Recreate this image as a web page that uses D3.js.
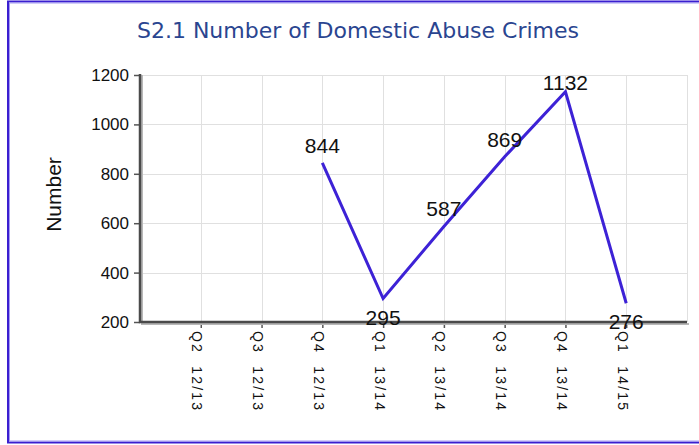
<!DOCTYPE html>
<html>
<head>
<meta charset="utf-8">
<script src="https://cdnjs.cloudflare.com/ajax/libs/d3/7.8.5/d3.min.js"></script>
<style>
  html, body { margin: 0; padding: 0; background: #fff; }
  svg { display: block; }
</style>
</head>
<body>
<div id="chart"></div>
<script>
const quarters = ['Q2 12/13', 'Q3 12/13', 'Q4 12/13', 'Q1 13/14', 'Q2 13/14', 'Q3 13/14', 'Q4 13/14', 'Q1 14/15'];
const crimes = [null, null, 844, 295, 587, 869, 1132, 276];
const yTicks = [200, 400, 600, 800, 1000, 1200];
const chartTitle = 'S2.1 Number of Domestic Abuse Crimes';
const yTitle = 'Number';

const width = 699;
const height = 445;
const plot = { left: 140, right: 687, top: 75, bottom: 322 };

const svg = d3.select('#chart').append('svg')
  .attr('width', width)
  .attr('height', height);

// frame
svg.append('rect')
  .attr('x', 8).attr('y', 1.5)
  .attr('width', width + 10).attr('height', 441)
  .attr('fill', 'none')
  .attr('stroke', '#3a1fd0')
  .attr('stroke-width', 2);
svg.append('rect')
  .attr('x', 9.5).attr('y', 3)
  .attr('width', width + 10).attr('height', 438)
  .attr('fill', 'none')
  .attr('stroke', '#a49cf2')
  .attr('stroke-width', 1);

svg.append('text')
  .attr('x', 358).attr('y', 38)
  .attr('text-anchor', 'middle')
  .style('font-family', '"DejaVu Sans", sans-serif')
  .style('font-size', '22px')
  .attr('fill', '#2a4590')
  .text(chartTitle);

const x = d3.scaleLinear()
  .domain([-1, quarters.length])
  .range([plot.left, plot.right]);

const y = d3.scaleLinear()
  .domain([200, 1200])
  .range([plot.bottom, plot.top]);

// grid
const grid = svg.append('g').attr('stroke', '#e0e0e0').attr('stroke-width', 1);
grid.selectAll('line.h')
  .data(yTicks.slice(1))
  .join('line')
  .attr('class', 'h')
  .attr('x1', plot.left).attr('x2', plot.right)
  .attr('y1', d => Math.round(y(d)) + 0.5).attr('y2', d => Math.round(y(d)) + 0.5);
grid.selectAll('line.v')
  .data(d3.range(quarters.length + 1))
  .join('line')
  .attr('class', 'v')
  .attr('x1', d => Math.round(x(d)) + 0.5).attr('x2', d => Math.round(x(d)) + 0.5)
  .attr('y1', plot.top).attr('y2', plot.bottom);

// axes
const yAxis = svg.append('g')
  .attr('transform', `translate(${plot.left},0)`)
  .call(d3.axisLeft(y).tickValues(yTicks).tickSize(6).tickPadding(5).tickFormat(d3.format('d')));
yAxis.select('.domain').remove();
yAxis.selectAll('line').attr('stroke', '#555').attr('stroke-width', 1.5);
yAxis.selectAll('text')
  .style('font-family', '"Liberation Sans", Arial, sans-serif')
  .style('font-size', '17px')
  .attr('fill', '#111');

const xAxis = svg.append('g')
  .attr('transform', `translate(0,${plot.bottom})`)
  .call(d3.axisBottom(x).tickValues(d3.range(quarters.length)).tickSize(6).tickFormat(i => quarters[i]));
xAxis.select('.domain').remove();
xAxis.selectAll('line').attr('stroke', '#555').attr('stroke-width', 1.5);
xAxis.selectAll('text')
  .attr('transform', 'rotate(90)')
  .attr('x', 9)
  .attr('y', 4)
  .attr('dy', '0.35em')
  .attr('text-anchor', 'start')
  .style('font-family', '"Liberation Sans", Arial, sans-serif')
  .style('font-size', '14px')
  .style('letter-spacing', '2.2px')
  .style('word-spacing', '6px')
  .attr('fill', '#111');

// axis lines with soft shadow
const axisLines = svg.append('g').attr('fill', 'none');
axisLines.append('path')
  .attr('d', `M${plot.left + 2},${plot.top}V${plot.bottom + 2}H${plot.right + 2}`)
  .attr('stroke', '#b8b8b8').attr('stroke-width', 2);
axisLines.append('path')
  .attr('d', `M${plot.left},${plot.top - 1}V${plot.bottom}H${plot.right}`)
  .attr('stroke', '#4a4a4a').attr('stroke-width', 2.5);

svg.append('text')
  .attr('transform', `translate(61,${(plot.top + plot.bottom) / 2 - 4}) rotate(-90)`)
  .attr('text-anchor', 'middle')
  .style('font-family', '"Liberation Sans", Arial, sans-serif')
  .style('font-size', '21px')
  .attr('fill', '#111')
  .text(yTitle);

// series
const line = d3.line()
  .defined(d => d != null)
  .x((d, i) => x(i))
  .y(d => y(d));

svg.append('path')
  .datum(crimes)
  .attr('d', line)
  .attr('fill', 'none')
  .attr('stroke', '#3d22d6')
  .attr('stroke-width', 3)
  .attr('stroke-linejoin', 'miter');

const isLow = i => {
  const prev = crimes[i - 1], next = crimes[i + 1];
  return (prev == null || prev > crimes[i]) && (next == null || next > crimes[i]) && (prev != null || next != null);
};

svg.append('g')
  .selectAll('text')
  .data(crimes.map((v, i) => ({ v, i })).filter(d => d.v != null))
  .join('text')
  .attr('x', d => x(d.i))
  .attr('y', d => isLow(d.i) ? y(d.v) + 26 : Math.max(y(d.v) - 10, plot.top + 15))
  .attr('text-anchor', 'middle')
  .style('font-family', '"Liberation Sans", Arial, sans-serif')
  .style('font-size', '21px')
  .attr('fill', '#111')
  .text(d => d.v);
</script>
</body>
</html>
